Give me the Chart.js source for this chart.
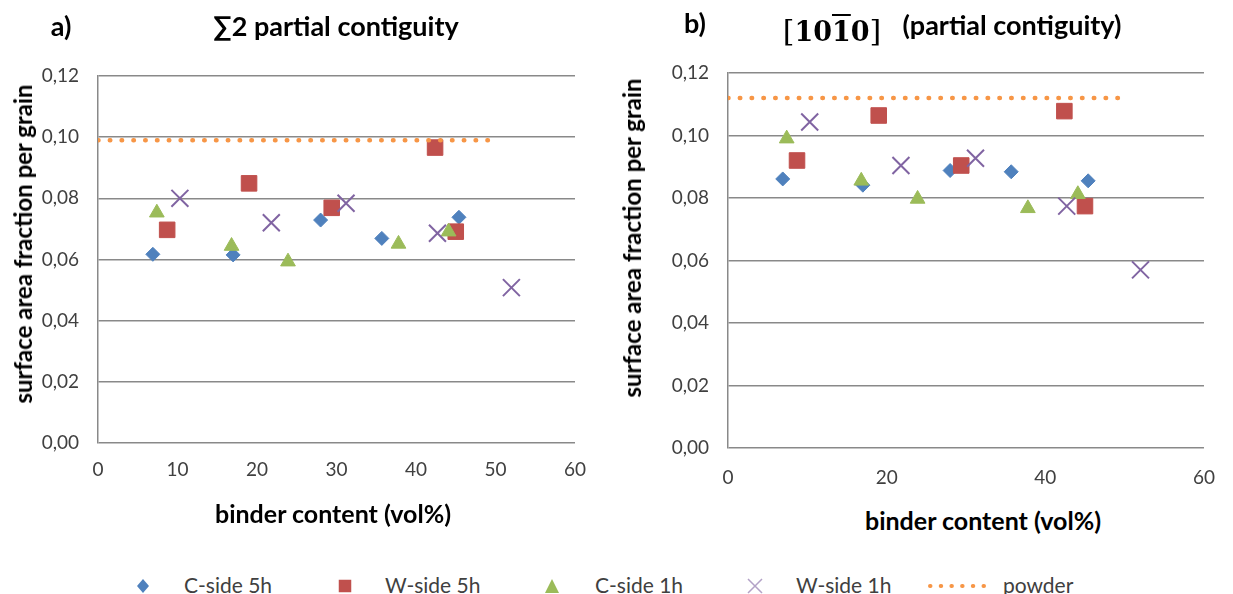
<!DOCTYPE html>
<html>
<head>
<meta charset="utf-8">
<title>partial contiguity</title>
<script src="https://cdn.jsdelivr.net/npm/chart.js@4.4.1/dist/chart.umd.min.js"></script>
<style>
    html, body { margin: 0; padding: 0; background: #fff; }
    #page { position: relative; width: 1233px; height: 594px; overflow: hidden; font-family: Lato, "Open Sans", sans-serif; }
    .cv { position: absolute; top: 0; }
    .t { position: absolute; transform: translate(-50%, -50%); white-space: nowrap; line-height: 1; font-weight: bold; color: #000; }
    .ty { transform: translate(-50%, -50%) rotate(-90deg); font-size: 24px; }
    .tx { font-size: 25px; }
    .tt { font-size: 27px; }
    .tb { font-size: 27px; }
    .math { font-family: "DejaVu Serif", "Liberation Serif", serif; font-size: 27px; }
    .math .br { font-weight: normal; font-size: 30px; }
    .math .ov { text-decoration: overline; text-decoration-thickness: 2px; }
    .lg { position: absolute; top: 584px; transform: translateY(-50%); line-height: 1; font-size: 21px; color: #404040; white-space: nowrap; }
    .mk { position: absolute; top: 586px; transform: translate(-50%, -50%); line-height: 0; }
</style>
</head>
<body>
<div id="page">
    <canvas id="chart-a" class="cv" width="610" height="500" style="left:0"></canvas>
    <canvas id="chart-b" class="cv" width="613" height="500" style="left:620px"></canvas>

    <div class="t tt" style="left:61px;top:25px">a)</div>
    <div class="t tt" style="left:336px;top:25px">∑2 partial contiguity</div>
    <div class="t tt" style="left:695px;top:22px">b)</div>
    <div class="t math" style="left:832px;top:31px"><span class="br">[</span>10<span class="ov">1</span>0<span class="br">]</span></div>
    <div class="t tb" style="left:1012px;top:24px">(partial contiguity)</div>

    <div class="t ty" style="left:23px;top:244px">surface area fraction per grain</div>
    <div class="t ty" style="left:632px;top:238px">surface area fraction per grain</div>
    <div class="t tx" style="left:333px;top:513px">binder content (vol%)</div>
    <div class="t tx" style="left:983px;top:520px">binder content (vol%)</div>

    <!-- shared legend -->
    <div class="mk" style="left:143px"><svg width="12" height="14"><polygon points="6,0 12,7 6,14 0,7" fill="#4F81BD"/></svg></div>
    <div class="lg" style="left:184px">C-side 5h</div>
    <div class="mk" style="left:345px"><svg width="13" height="13"><rect width="13" height="13" fill="#C0504D"/></svg></div>
    <div class="lg" style="left:385px">W-side 5h</div>
    <div class="mk" style="left:552px"><svg width="14" height="14"><polygon points="7,0 14,14 0,14" fill="#9BBB59"/></svg></div>
    <div class="lg" style="left:595px">C-side 1h</div>
    <div class="mk" style="left:755px"><svg width="16" height="16"><path d="M1,1 L15,15 M15,1 L1,15" stroke="#B3A2C7" stroke-width="1.5"/></svg></div>
    <div class="lg" style="left:796px">W-side 1h</div>
    <div class="mk" style="left:962px"><svg width="70" height="6"><line x1="3" y1="3" x2="67" y2="3" stroke="#F79646" stroke-width="4" stroke-linecap="round" stroke-dasharray="0.5 10.2"/></svg></div>
    <div class="lg" style="left:1003px">powder</div>
</div>

<script>
/* ===== data ===== */
var seriesNames = ["C-side 5h", "W-side 5h", "C-side 1h", "W-side 1h", "powder"];

// binder content (vol%) - same samples in both panels
var xC5 = [6.9, 17.0, 28.0, 35.7, 45.4];
var xW5 = [8.7, 19.0, 29.4, 42.4, 45.0];
var xC1 = [7.4, 16.8, 23.9, 37.8, 44.1];
var xW1 = [10.3, 21.8, 31.2, 42.7, 52.0];
var xPowder = [0, 50];

// panel a) sum2 partial contiguity
var aC5 = [0.0617, 0.0615, 0.0729, 0.0669, 0.0738];
var aW5 = [0.0697, 0.0849, 0.0769, 0.0966, 0.0691];
var aC1 = [0.0753, 0.0644, 0.0593, 0.0651, 0.0691];
var aW1 = [0.0800, 0.0720, 0.0784, 0.0686, 0.0508];
var aPowder = 0.099;

// panel b) [10-10] partial contiguity
var bC5 = [0.0861, 0.0841, 0.0888, 0.0884, 0.0855];
var bW5 = [0.0920, 0.1064, 0.0904, 0.1078, 0.0774];
var bC1 = [0.0990, 0.0855, 0.0797, 0.0767, 0.0812];
var bW1 = [0.1043, 0.0904, 0.0927, 0.0774, 0.0570];
var bPowder = 0.112;

var yTicks = [0, 0.02, 0.04, 0.06, 0.08, 0.10, 0.12];
var xTicksA = [0, 10, 20, 30, 40, 50, 60];
var xTicksB = [0, 20, 40, 60];

/* --- helpers --- */
function pts(xs, ys) {
    var out = [];
    for (var i = 0; i < xs.length; i++) out.push({ x: xs[i], y: ys[i] });
    return out;
}

function commaFmt(v) {
    return v.toFixed(2).replace(".", ",");
}

/* --- one panel --- */
function makePanel(id, ys, powder, xTicks, geo) {
    var gridGrey = "#898989";
    var tickFont = { family: "Lato, 'Open Sans', sans-serif", size: 19, lineHeight: 1.2 };

    return new Chart(document.getElementById(id), {
        type: "scatter",
        data: {
            datasets: [
                {
                    label: seriesNames[0], data: pts(xC5, ys[0]),
                    pointStyle: "rectRot", pointRadius: 7, pointHoverRadius: 7,
                    backgroundColor: "#4F81BD", borderColor: "#4F81BD", borderWidth: 1, order: 4
                },
                {
                    label: seriesNames[1], data: pts(xW5, ys[1]),
                    pointStyle: "rect", pointRadius: 11, pointHoverRadius: 11,
                    backgroundColor: "#C0504D", borderColor: "#C0504D", borderWidth: 1, order: 3
                },
                {
                    label: seriesNames[2], data: pts(xC1, ys[2]),
                    pointStyle: "triangle", pointRadius: 8.5, pointHoverRadius: 8.5,
                    backgroundColor: "#9BBB59", borderColor: "#9BBB59", borderWidth: 1, order: 2
                },
                {
                    label: seriesNames[3], data: pts(xW1, ys[3]),
                    pointStyle: "crossRot", pointRadius: 12, pointHoverRadius: 12,
                    backgroundColor: "#8064A2", borderColor: "#8064A2", borderWidth: 2, order: 1
                },
                {
                    label: seriesNames[4], data: pts(xPowder, [powder, powder]),
                    showLine: true, pointRadius: 0, pointHoverRadius: 0,
                    borderColor: "#F79646", borderWidth: 4.5,
                    borderDash: [0.5, 11.3], borderCapStyle: "round", order: 0
                }
            ]
        },
        options: {
            responsive: false,
            animation: false,
            events: [],
            layout: { padding: { top: geo.top, right: geo.right, left: 0, bottom: 0 } },
            plugins: { legend: { display: false }, tooltip: { enabled: false } },
            scales: {
                x: {
                    type: "linear", min: 0, max: 60,
                    afterBuildTicks: function (s) { s.ticks = xTicks.map(function (v) { return { value: v }; }); },
                    afterFit: function (s) { s.height = geo.xHeight; },
                    grid: { display: false, drawTicks: false },
                    border: { display: false },
                    ticks: { color: "#404040", font: tickFont, padding: geo.xPad, maxRotation: 0 }
                },
                y: {
                    type: "linear", min: 0, max: 0.12,
                    afterBuildTicks: function (s) { s.ticks = yTicks.map(function (v) { return { value: v }; }); },
                    afterFit: function (s) { s.width = geo.yWidth; },
                    grid: { color: gridGrey, lineWidth: 1.5, drawTicks: false },
                    border: { display: true, color: gridGrey, width: 1.5 },
                    ticks: { color: "#404040", font: tickFont, padding: 19, callback: commaFmt }
                }
            }
        }
    });
}

makePanel("chart-a", [aC5, aW5, aC1, aW1], aPowder, xTicksA,
    { top: 76, right: 35, yWidth: 98, xHeight: 57, xPad: 15 });
makePanel("chart-b", [bC5, bW5, bC1, bW1], bPowder, xTicksB,
    { top: 73, right: 20, yWidth: 108, xHeight: 52, xPad: 18 });
</script>
</body>
</html>
